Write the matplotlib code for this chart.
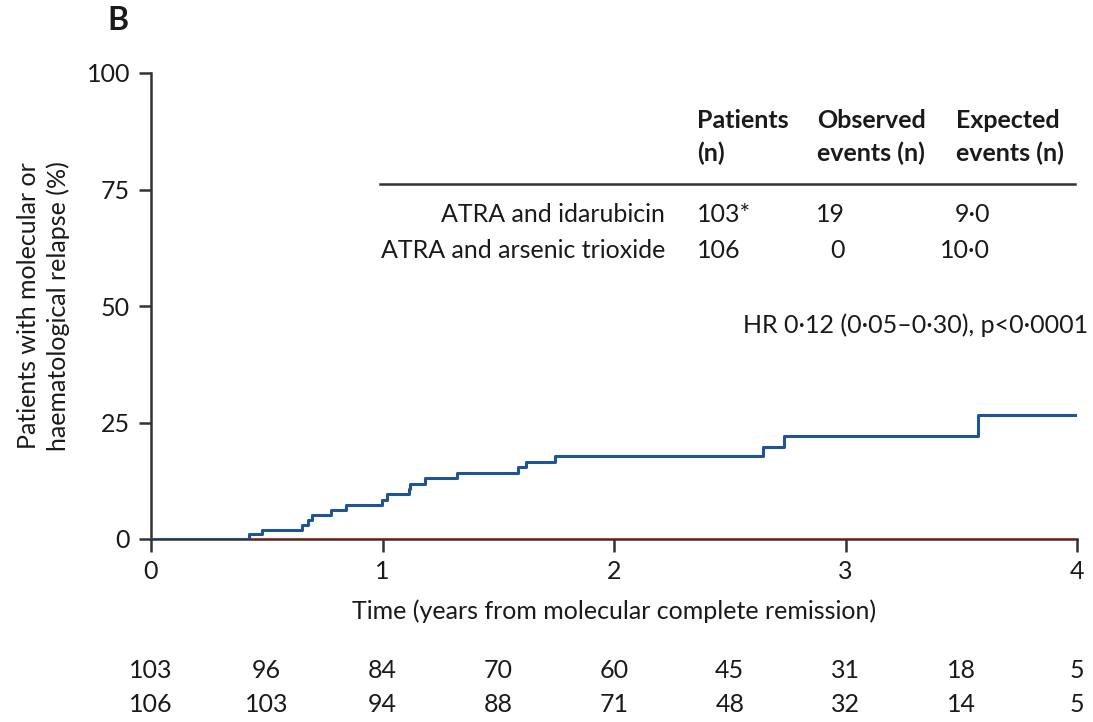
import matplotlib
matplotlib.use("Agg")
import matplotlib.pyplot as plt
import numpy as np

# ---- data ----
ida_times = [0.0, 0.423, 0.48, 0.654, 0.677, 0.697, 0.779, 0.844, 0.999, 1.019,
             1.113, 1.118, 1.185, 1.323, 1.587, 1.621, 1.746, 2.644, 2.734, 3.572, 4.0]
ida_pct = [0.0, 1.0, 2.0, 3.0, 4.1, 5.1, 6.2, 7.3, 8.4, 9.6,
           10.8, 11.9, 13.0, 14.2, 15.4, 16.6, 17.8, 19.8, 22.0, 26.6, 26.6]
ato_times = [0.0, 4.0]
ato_pct = [0.0, 0.0]

xticks = [0, 1, 2, 3, 4]
yticks = [0, 25, 50, 75, 100]
risk_times = [0, 0.5, 1, 1.5, 2, 2.5, 3, 3.5, 4]
risk_ida = [103, 96, 84, 70, 60, 45, 31, 18, 5]
risk_ato = [106, 103, 94, 88, 71, 48, 32, 14, 5]

groups = ["ATRA and idarubicin", "ATRA and arsenic trioxide"]
patients = ["103*", "106"]
observed = ["19", "0"]
expected = ["9·0", "10·0"]
headers = ["Patients\n(n)", "Observed\nevents (n)", "Expected\nevents (n)"]
hr_text = "HR 0·12 (0·05–0·30), p<0·0001"

# ---- figure ----
W, H = 1093, 722
FS = 18
plt.rcParams['font.family'] = ['Lato', 'DejaVu Sans']
fig = plt.figure(figsize=(W / 100, H / 100), dpi=100)
ax = fig.add_axes([151 / W, 1 - 539 / H, (1077 - 151) / W, (539 - 73) / H])

txt = "#1a1a1a"
blue = "#1f5596"
red = "#c0392b"

ax.step(ato_times, ato_pct, where="post", color=red, lw=2.2, zorder=3)
ax.step(ida_times, ida_pct, where="post", color=blue, lw=2.2, zorder=4)

ax.set_xlim(0, 4)
ax.set_ylim(0, 100)
ax.set_xticks(xticks)
ax.set_yticks(yticks)
for s in ["top", "right"]:
    ax.spines[s].set_visible(False)
for s in ["left", "bottom"]:
    ax.spines[s].set_color("#333333")
    ax.spines[s].set_linewidth(1.8)
ax.tick_params(direction="out", length=9, width=1.8, color="#333333",
               labelsize=FS, labelcolor=txt, pad=6)
ax.set_xlabel("Time (years from molecular complete remission)", fontsize=FS,
              color=txt, labelpad=12)
ax.set_ylabel("Patients with molecular or\nhaematological relapse (%)", fontsize=FS,
              color=txt, labelpad=12, linespacing=1.35)

def px(x, y):
    return x / W, 1 - y / H

fig.text(*px(118, 21), "B", fontsize=23, fontweight="bold", color=txt,
         ha="center", va="center")

# table headers
hx = [697, 817, 956]
for x, h in zip(hx, headers):
    fig.text(*px(x, 137), h, fontsize=FS, fontweight="bold", color=txt,
             ha="left", va="center", linespacing=1.45)
fig.add_artist(plt.Line2D([380 / W, 1075 / W], [1 - 184 / H, 1 - 184 / H],
                          color="#333333", lw=1.8, transform=fig.transFigure))
row_y = [214, 250]
for i in range(2):
    y = row_y[i]
    fig.text(*px(665, y), groups[i], fontsize=FS, color=txt, ha="right", va="center")
    fig.text(*px(697, y), patients[i], fontsize=FS, color=txt, ha="left", va="center")
    fig.text(*px(845, y), observed[i], fontsize=FS, color=txt, ha="right", va="center")
    fig.text(*px(990, y), expected[i], fontsize=FS, color=txt, ha="right", va="center")

fig.text(*px(1088, 325), hr_text, fontsize=FS, color=txt, ha="right", va="center")

# number at risk
for t, a, b in zip(risk_times, risk_ida, risk_ato):
    xf = ax.transData.transform((t, 0))[0] / W
    fig.text(xf, 1 - 670 / H, str(a), fontsize=FS, color=txt, ha="center", va="center")
    fig.text(xf, 1 - 705 / H, str(b), fontsize=FS, color=txt, ha="center", va="center")

fig.savefig("out.png", dpi=100, facecolor="white")
